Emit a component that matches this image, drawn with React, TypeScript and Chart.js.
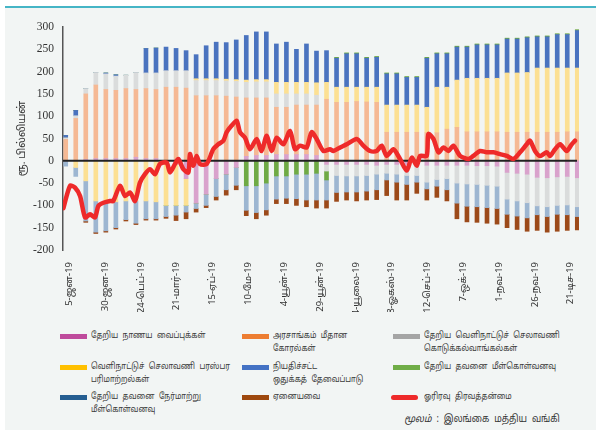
import React, { useEffect, useRef } from "react";
import { Chart, registerables } from "chart.js";

Chart.register(...registerables);

// Day-of-year (2019) at the middle of each business week
const weekMidDay = [
  2, 9, 16, 23, 30, 37, 44, 51, 58, 65, 72, 79, 86, 93, 100, 107, 114, 121, 128, 135, 142, 149, 156, 163, 170, 177,
  184, 191, 198, 205, 212, 219, 226, 233, 240, 247, 254, 261, 268, 275, 282, 289, 296, 303, 310, 317, 324, 331, 338, 345, 352, 359,
];

// Rs. billion, weekly
const netCurrencyDeposits = [
  0, 0, 3, 5, 5, 5, 5, 8, 5, 5, -3, -8, -40, -95, -75, -40, -30, -15, 10, 12, 12, 14, 14, 14, 14, 12,
  -8, -8, -8, -8, -8, -10, -8, -8, -8, -8, -10, -10, -10, -10, -10, -11, -11, -12, -26, -28, -30, -37, -38, -36, -35, -38,
];
const claimsOnGovernment = [
  48, 95, 147, 165, 155, 153, 157, 152, 157, 155, 165, 165, 163, 146, 146, 146, 145, 143, 131, 129, 129, 106, 106, 111, 111, 113,
  138, 131, 131, 133, 132, 131, 64, 64, 64, 64, 63, 63, 71, 75, 65, 65, 65, 65, 64, 64, 64, 64, 64, 64, 65, 65,
];
const netFxTransactions = [
  3, 6, 12, 28, 35, 32, 30, 38, 35, 37, 37, 37, 39, 34, 34, 34, 34, 35, 35, 36, 36, 30, 30, 25, 25, 22,
  -15, -25, -26, -26, -25, -20, -20, -22, -25, -25, -38, -32, -30, -40, -42, -42, -44, -45, -60, -62, -64, -64, -65, -64, -64, -65,
];
const fxSwaps = [
  0, -15, -45, -90, -92, -92, -90, -90, -90, -92, -97, -92, -60, 4, 4, 4, 4, 4, 5, 5, 5, 26, 26, 26, 26, 28,
  38, 34, 34, 32, 33, 34, 61, 61, 61, 61, 57, 102, 94, 106, 120, 120, 120, 120, 133, 133, 134, 144, 144, 144, 143, 143,
];
const statutoryReserve = [
  6, 12, 0, 0, 2, 3, 0, 0, 55, 56, 53, 50, 45, 54, 74, 82, 82, 89, 100, 107, 107, 86, 90, 74, 86, 71,
  71, 65, 75, 75, 65, 67, 70, 70, 62, 62, 110, 75, 75, 74, 70, 75, 75, 75, 76, 76, 78, 70, 70, 75, 75, 84,
];
const netTermRepo = [
  0, 0, 0, 0, 0, 0, 0, 0, 0, 0, 0, 0, 0, 0, 0, 0, 0, 0, -56, -56, -50, -34, -34, -30, -30, -28,
  -20, 2, 2, 2, 2, 2, 2, 2, 2, 2, 2, 2, 2, 2, 2, 2, 2, 2, 2, 2, 2, 2, 2, 2, 2, 2,
];
const netTermReverseRepo = [
  -12, -20, -90, -70, -65, -58, -42, -50, -40, -38, -25, -22, -15, -12, -25, -40, -35, -40, -55, -60, -60, -52, -50, -55, -58, -60,
  -45, -38, -36, -36, -35, -35, -15, -18, -20, -15, -15, -15, -25, -45, -50, -50, -50, -50, -34, -34, -34, -20, -22, -20, -22, -22,
];
const others = [
  0, 0, -3, -3, -3, -3, -3, -3, -3, -3, -4, -12, -15, -8, -5, -8, -12, -10, -12, -14, -12, -10, -12, -15, -15, -18,
  -18, -20, -18, -20, -20, -22, -35, -40, -35, -25, -25, -25, -25, -35, -35, -35, -35, -35, -30, -30, -30, -35, -35, -38, -35, -30,
];

// Overnight liquidity (red line): day-of-year and Rs. billion
const liquidityDay = [
  0.4, 5, 8.5, 12, 15.5, 19, 22.4, 24.8, 28.3, 32.9, 35.2, 39.9, 43.4, 46.9, 50.4, 53.8, 57.3, 60.8, 64.3, 67.8,
  72.4, 74.8, 78.3, 80.6, 84.1, 87.6, 88.7, 91, 93.4, 95.7, 100.4, 105, 108.5, 112, 114.3, 117.8, 121.3, 123.6, 127.1, 130.6,
  135.3, 138.7, 142.2, 145.7, 149.2, 153.9, 158.5, 162, 165.5, 170.1, 173.6, 177.1, 181.8, 186.4, 188.8, 193.5, 198.1, 205.1, 209.7, 214.4,
  219, 222.5, 226, 230.7, 235.3, 240, 243.5, 247, 249.3, 253.9, 255.1, 258.6, 262.1, 265.6, 269.1, 272.5, 277.2, 283, 286.5, 291.1,
  295.8, 300.5, 305.1, 309.8, 314.4, 319.1, 323.7, 326, 329.5, 333, 337.7, 340, 343.5, 347, 351.6, 355.1, 357.4,
];
const overnightLiquidity = [
  -106, -56, -60, -79, -127, -120, -127, -101, -94, -90, -90, -56, -79, -71, -90, -49, -30, -19, -30, -7,
  -4, -26, -7, 4, -19, -26, 15, -11, 11, -7, -7, 26, 37, 45, 64, 79, 90, 64, 52, 26,
  49, 22, 56, 22, 52, 37, 67, 26, 34, 30, 64, 49, 22, 26, 22, 30, 37, 49, 34, 22,
  22, 34, 11, 26, 4, -22, 7, -11, 11, 11, 60, 49, 19, 30, 22, 34, 11, 4, 11, 22,
  19, 19, 15, 11, 4, 19, 37, 45, 22, 11, 19, 11, 26, 37, 22, 37, 45,
];

const xTickDays = [5, 30, 55, 80, 105, 130, 155, 180, 205, 230, 255, 280, 305, 330, 355];
const xTickLabels = [
  "5-ஜன-19", "30-ஜன-19", "24-பெப்-19", "21-மார்-19", "15-ஏப்-19", "10-மே-19", "4-யூன்-19", "29-யூன்-19",
  "24-யூலை-19", "18-ஓகஸ்-19", "12-செப்-19", "7-ஒக்-19", "1-நவ-19", "26-நவ-19", "21-டிச-19",
];

const seriesNames = [
  "தேறிய நாணய வைப்புக்கள்",
  "அரசாங்கம் மீதான\nகோரல்கள்",
  "தேறிய வெளிநாட்டுச் செலாவணி\nகொடுக்கல்வாங்கல்கள்",
  "வெளிநாட்டுச் செலாவணி பரஸ்பர\nபரிமாற்றல்கள்",
  "நியதிச்சட்ட\nஒதுக்கத் தேவைப்பாடு",
  "தேறிய தவனை மீள்கொள்வனவு",
  "தேறிய தவனை நேர்மாற்று\nமீள்கொள்வனவு",
  "ஏனையவை",
  "ஓரிரவு திரவத்தன்மை",
];
const legendColors = ["#BF4B9C", "#ED7D31", "#A5A5A5", "#FFC000", "#4472C4", "#70AD47", "#255E91", "#9E480E", "#EE2A2A"];
const barColors = ["#D9A2CC", "#F5B994", "#DADCDC", "#FCE093", "#4A73BF", "#6FAA45", "#9DB6D1", "#9C4A1A"];

const TAMIL = "'Noto Sans Tamil', 'Lohit Tamil', 'Noto Sans', 'DejaVu Sans', sans-serif";

export default function App() {
  const ref = useRef<HTMLCanvasElement>(null);

  useEffect(() => {
    const barSeries = [
      netCurrencyDeposits, claimsOnGovernment, netFxTransactions, fxSwaps,
      statutoryReserve, netTermRepo, netTermReverseRepo, others,
    ];
    const datasets: any[] = barSeries.map((vals, k) => ({
      type: "bar",
      label: seriesNames[k].replace("\n", " "),
      data: weekMidDay.map((d, i) => ({ x: d, y: vals[i] })),
      backgroundColor: barColors[k],
      borderWidth: 0,
      barThickness: 4,
      order: 1,
    }));
    const lineIndex = datasets.length;
    datasets.push({
      type: "line",
      label: seriesNames[8],
      data: liquidityDay.map((d, i) => ({ x: d, y: overnightLiquidity[i] })),
      borderColor: legendColors[8],
      borderWidth: 4.5,
      pointRadius: 0,
      tension: 0.25,
      stack: "line",
      order: 0,
      borderCapStyle: "round",
      borderJoinStyle: "round",
    });

    const zeroLine = {
      id: "zeroLine",
      beforeDatasetDraw(chart: any, args: any) {
        if (args.index !== lineIndex) return;
        const ctx = chart.ctx;
        const y = chart.scales.y.getPixelForValue(0);
        ctx.save();
        ctx.strokeStyle = "#222";
        ctx.lineWidth = 2;
        ctx.beginPath();
        ctx.moveTo(chart.chartArea.left, y);
        ctx.lineTo(chart.chartArea.right - 2, y);
        ctx.stroke();
        ctx.restore();
      },
    };

    const chart = new Chart(ref.current!, {
      type: "bar",
      data: { datasets },
      plugins: [zeroLine],
      options: {
        animation: false,
        responsive: false,
        events: [],
        layout: { padding: { left: 0, right: 17, top: 27, bottom: 0 } },
        plugins: { legend: { display: false }, tooltip: { enabled: false } },
        scales: {
          x: {
            type: "linear",
            stacked: true,
            offset: false,
            min: 0.1,
            max: 360.2,
            grid: { display: false, offset: false },
            border: { display: false },
            afterFit: (s: any) => { s.height = 62; },
            afterBuildTicks: (s: any) => { s.ticks = xTickDays.map((v) => ({ value: v })); },
            ticks: {
              autoSkip: false,
              minRotation: 90,
              maxRotation: 90,
              padding: 4,
              color: "#333",
              font: { family: TAMIL, size: 9.5 },
              callback: (v: any) => xTickLabels[xTickDays.indexOf(Number(v))] ?? "",
            },
          },
          y: {
            stacked: true,
            min: -200,
            max: 300,
            grid: { display: false, drawTicks: false },
            border: { display: true, color: "#555", width: 1.5 },
            afterFit: (s: any) => { s.width = 63; },
            ticks: {
              stepSize: 50,
              padding: 9,
              color: "#333",
              font: { family: "'Liberation Serif', serif", size: 11.5 },
            },
            title: {
              display: true,
              text: "ரூ. பில்லியன்",
              color: "#333",
              padding: { top: 17, bottom: 0 },
              font: { family: TAMIL, size: 10.5 },
            },
          },
        },
      } as any,
    });
    return () => chart.destroy();
  }, []);

  const colX = [60, 242, 393];
  const rowY = [336, 367, 397];

  return (
    <div style={{ position: "fixed", left: 0, top: 0, width: 596, height: 430, background: "#fff", overflow: "hidden" }}>
      <div style={{ position: "absolute", left: 5, top: 8, right: 0, bottom: 0, background: "#F2F5F4" }} />
      <div style={{ position: "absolute", left: 5, top: 6, right: 0, height: 2, background: "#45B5C6" }} />
      <canvas ref={ref} width={596} height={312} style={{ position: "absolute", left: 0, top: 0, width: 596, height: 312 }} />
      {seriesNames.map((name, k) => {
        const col = k % 3;
        const row = Math.floor(k / 3);
        const isLine = k === 8;
        return (
          <div key={k} style={{ position: "absolute", left: colX[col], top: rowY[row] - 7, display: "flex", alignItems: "flex-start" }}>
            <div
              style={{
                width: 27,
                height: 5,
                marginTop: 4.5,
                marginLeft: isLine ? -2 : 0,
                marginRight: isLine ? 6 : 4,
                background: legendColors[k],
                borderRadius: isLine ? 3 : 0,
                flex: "none",
              }}
            />
            <div
              style={{
                fontFamily: TAMIL,
                fontSize: 9,
                lineHeight: "13px",
                color: "#3a3a3a",
                whiteSpace: "pre",
                wordSpacing: 3,
                transform: "scaleX(0.83)",
                transformOrigin: "left top",
              }}
            >
              {name}
            </div>
          </div>
        );
      })}
      <div
        style={{
          position: "absolute",
          right: 36,
          top: 413,
          fontFamily: TAMIL,
          fontSize: 10,
          color: "#333",
          whiteSpace: "pre",
          wordSpacing: 3,
          transform: "scaleX(0.88)",
          transformOrigin: "right top",
        }}
      >
        <i>மூலம்</i> : இலங்கை மத்திய வங்கி
      </div>
    </div>
  );
}
